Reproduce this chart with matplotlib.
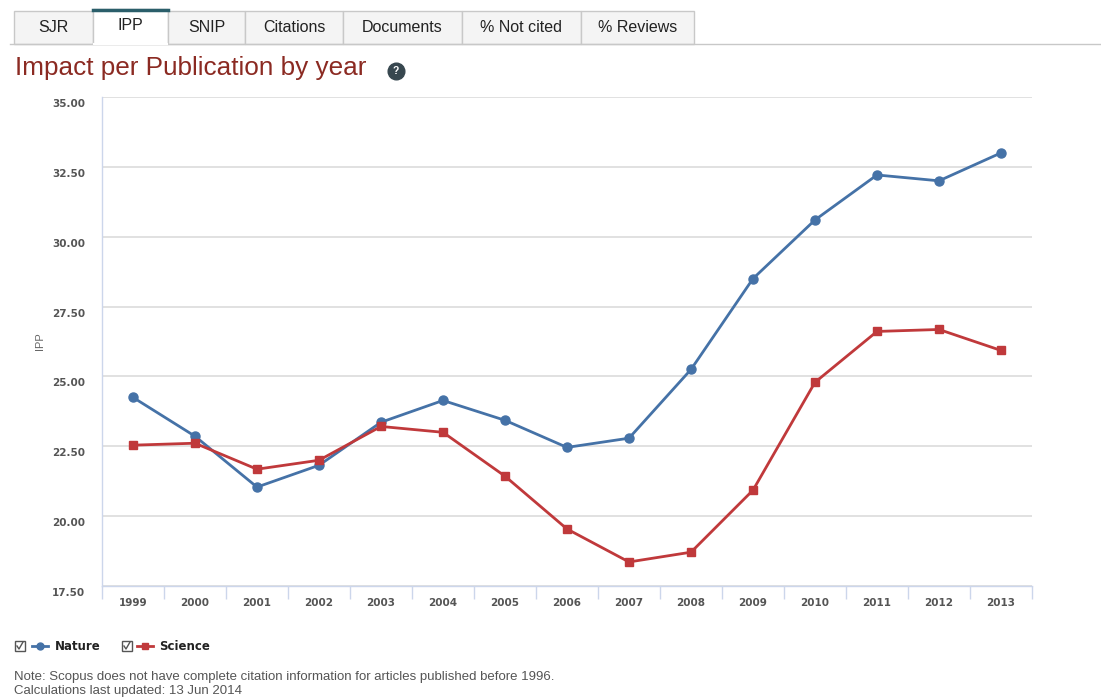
import numpy as np
import matplotlib
matplotlib.use('Agg')
import matplotlib.pyplot as plt
import matplotlib.transforms as mtransforms
from matplotlib.patches import Rectangle
from matplotlib.lines import Line2D

W, H = 1101, 699

years = [str(y) for y in range(1999, 2014)]
nature = [24.25, 22.86, 21.04, 21.82, 23.36, 24.14, 23.43, 22.46, 22.79,
          25.25, 28.50, 30.60, 32.21, 32.00, 33.00]
science = [22.54, 22.61, 21.68, 22.00, 23.21, 23.00, 21.43, 19.54, 18.36,
           18.71, 20.93, 24.79, 26.61, 26.68, 25.93]
yticks = [17.5, 20.0, 22.5, 25.0, 27.5, 30.0, 32.5, 35.0]
tabs = ['SJR', 'IPP', 'SNIP', 'Citations', 'Documents', '% Not cited', '% Reviews']
tab_edges = [14, 93, 168, 245, 343, 462, 581, 694]
active_tab = 'IPP'

COL_NAT = '#4572A7'
COL_SCI = '#C0393B'
COL_TITLE = '#8B2A22'

plt.rcParams['font.family'] = ['Liberation Sans', 'DejaVu Sans']

fig = plt.figure(figsize=(W / 100, H / 100), dpi=100)


def fx(x):
    return x / W


def fy(y):
    return 1 - y / H


# tabs
fig.add_artist(Line2D([fx(10), fx(W)], [fy(43.5), fy(43.5)], color='#c8c8c8', lw=1))
for i, name in enumerate(tabs):
    x0, x1 = tab_edges[i], tab_edges[i + 1]
    act = name == active_tab
    top = 9 if act else 11
    fig.add_artist(Rectangle((fx(x0), fy(44 if act else 43.5)), fx(x1 - x0), (44 - top) / H,
                             facecolor='white' if act else '#f4f4f4',
                             edgecolor='#c8c8c8', lw=1, transform=fig.transFigure))
    if act:
        fig.add_artist(Line2D([fx(x0), fx(x1)], [fy(10), fy(10)], color='#2a5e6a', lw=2.5))
        fig.add_artist(Line2D([fx(x0 + 1), fx(x1 - 1)], [fy(43.5), fy(43.5)], color='white', lw=1.5))
    fig.text(fx((x0 + x1) / 2), fy(26 if act else 27), name, ha='center', va='center',
             fontsize=11.5, color='#222222')

# title
fig.text(fx(15), fy(68), 'Impact per Publication by year', ha='left', va='center',
         fontsize=18.8, color=COL_TITLE)
fig.add_artist(Line2D([fx(396)], [fy(71)], marker='o', ms=12, color='#37474f', lw=0))
fig.text(fx(396), fy(71.5), '?', ha='center', va='center', fontsize=7.5,
         color='white', fontweight='bold')

# chart
ax = fig.add_axes([fx(102), fy(586), fx(1032 - 102), (586 - 97) / H])
x = np.arange(len(years))
ax.plot(x, nature, color=COL_NAT, lw=2, marker='o', ms=6.5, zorder=3)
ax.plot(x, science, color=COL_SCI, lw=2, marker='s', ms=6, zorder=3)
ax.set_xlim(-0.5, len(years) - 0.5)
ax.set_ylim(17.5, 35.0)
ax.set_yticks(yticks)
ax.set_yticklabels(['%.2f' % v for v in yticks])
ax.set_xticks(x)
ax.set_xticklabels(years)
ax.set_xticks(np.arange(-0.5, len(years)), minor=True)
ax.tick_params(axis='x', which='major', length=0, pad=9, labelsize=7.5,
               labelcolor='#555555')
ax.tick_params(axis='x', which='minor', length=9, color='#ccd6eb', width=1)
ax.tick_params(axis='y', length=0, pad=12, labelsize=7.5, labelcolor='#555555')
shift = mtransforms.ScaledTranslation(0, -6 / 100, fig.dpi_scale_trans)
for lab in ax.get_yticklabels():
    lab.set_transform(lab.get_transform() + shift)
for lab in ax.get_xticklabels() + ax.get_yticklabels():
    lab.set_fontfamily('DejaVu Sans')
    lab.set_fontweight('bold')
ax.grid(axis='y', color='#dcdcdc', lw=1.2)
ax.set_axisbelow(True)
for s in ('top', 'right'):
    ax.spines[s].set_visible(False)
ax.spines['left'].set_color('#ccd6eb')
ax.spines['bottom'].set_color('#ccd6eb')
ax.spines['left'].set_linewidth(1)
ax.spines['bottom'].set_linewidth(1)
ax.set_ylabel('IPP', fontsize=8, color='#666666', labelpad=5)


# legend
def checkbox(xc):
    fig.add_artist(Rectangle((fx(xc - 5), fy(651)), 10 / W, 10 / H, transform=fig.transFigure,
                             facecolor='white', edgecolor='#555555', lw=1))
    fig.add_artist(Line2D([fx(xc - 3), fx(xc - 1), fx(xc + 3)], [fy(646), fy(649), fy(642)],
                          color='#555555', lw=1))


checkbox(20)
fig.add_artist(Line2D([fx(32), fx(48)], [fy(646), fy(646)], color=COL_NAT, lw=2))
fig.add_artist(Line2D([fx(40)], [fy(646)], color=COL_NAT, marker='o', ms=5))
fig.text(fx(55), fy(646), 'Nature', ha='left', va='center', fontsize=8.5,
         fontweight='bold', color='#222222', family='DejaVu Sans')
checkbox(127)
fig.add_artist(Line2D([fx(137), fx(153)], [fy(646), fy(646)], color=COL_SCI, lw=2))
fig.add_artist(Line2D([fx(145)], [fy(646)], color=COL_SCI, marker='s', ms=5))
fig.text(fx(159), fy(646), 'Science', ha='left', va='center', fontsize=8.5,
         fontweight='bold', color='#222222', family='DejaVu Sans')

# notes
fig.text(fx(14), fy(677), 'Note: Scopus does not have complete citation information for '
         'articles published before 1996.', ha='left', va='center', fontsize=9.5, color='#555555')
fig.text(fx(14), fy(691), 'Calculations last updated: 13 Jun 2014', ha='left', va='center',
         fontsize=9.5, color='#555555')

fig.savefig('out.png', dpi=100)
